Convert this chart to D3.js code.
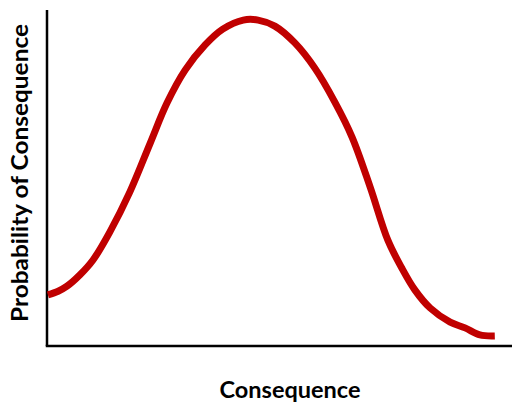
<!DOCTYPE html>
<html lang="en">
  <head>
    <meta charset="utf-8">
    <title>Probability of Consequence</title>
    <script src="https://d3js.org/d3.v7.min.js"></script>
    <style>
      body { margin: 0; background: #fff; }
      svg { display: block; }
      .label {
        font-family: Lato, "Open Sans", sans-serif;
        font-weight: bold;
        fill: #000;
      }
    </style>
  </head>
  <body>
    <script>
      // values (arbitrary 0-100 units, no ticks)
      var consequence = [0.2, 2.4, 4.3, 7.1, 9.9, 13.5, 17.8, 22.2, 25.8, 29.7, 34.0, 37.8, 42.2, 45.4,
                         49.0, 53.3, 57.6, 61.9, 65.6, 69.5, 73.3, 76.3, 79.1, 82.4, 86.7, 89.9, 93.1, 96.3];
      var probability = [15.2, 16.3, 17.8, 21.2, 25.6, 33.9, 45.8, 60.4, 72.3, 82.1, 89.6, 94.3, 97.0, 97.0,
                         95.2, 90.2, 82.7, 72.6, 62.2, 47.3, 31.5, 23.2, 16.7, 11.3, 7.1, 5.4, 3.3, 3.0];
      var xTitle = 'Consequence';
      var yTitle = 'Probability of Consequence';

      var width = 512, height = 402;
      var margin = {top: 10, right: 0, bottom: 56, left: 47};

      var svg = d3.select('body').append('svg')
        .attr('width', width)
        .attr('height', height);

      var x = d3.scaleLinear().domain([0, 100]).range([margin.left, width - margin.right]);
      var y = d3.scaleLinear().domain([0, 100]).range([height - margin.bottom, margin.top]);

      // axes: plain lines, no ticks
      svg.append('line')
        .attr('x1', x(0)).attr('x2', x(0))
        .attr('y1', y(100)).attr('y2', y(0))
        .attr('stroke', '#000').attr('stroke-width', 2.5);
      svg.append('line')
        .attr('x1', x(0) - 1.25).attr('x2', x(100))
        .attr('y1', y(0)).attr('y2', y(0))
        .attr('stroke', '#000').attr('stroke-width', 2.5);

      var pts = consequence.map(function(c, i) { return [c, probability[i]]; });

      var line = d3.line()
        .x(function(d) { return x(d[0]); })
        .y(function(d) { return y(d[1]); })
        .curve(d3.curveCatmullRom);

      svg.append('path')
        .datum(pts)
        .attr('d', line)
        .attr('fill', 'none')
        .attr('stroke', '#c00000')
        .attr('stroke-width', 7)
        .attr('stroke-linejoin', 'round');

      svg.append('text')
        .attr('class', 'label')
        .attr('x', 290).attr('y', 398)
        .attr('text-anchor', 'middle')
        .attr('font-size', 22.5)
        .attr('textLength', 141)
        .attr('lengthAdjust', 'spacingAndGlyphs')
        .text(xTitle);

      svg.append('text')
        .attr('class', 'label')
        .attr('transform', 'translate(28,173) rotate(-90)')
        .attr('text-anchor', 'middle')
        .attr('font-size', 22.5)
        .attr('textLength', 298)
        .attr('lengthAdjust', 'spacingAndGlyphs')
        .text(yTitle);
    </script>
  </body>
</html>
